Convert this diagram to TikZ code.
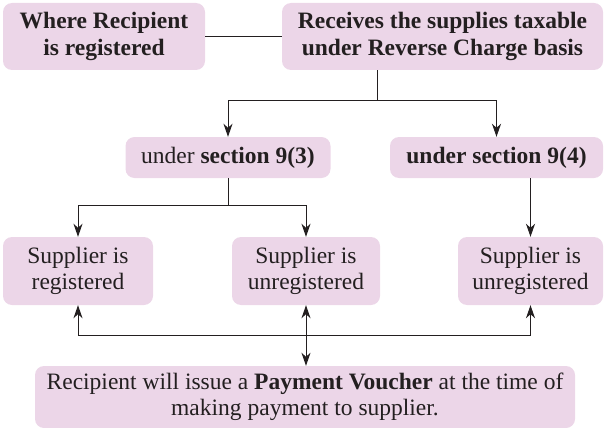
\documentclass[tikz,border=0pt]{standalone}
\usepackage{fontspec}
\setmainfont{Liberation Serif}
\usetikzlibrary{arrows.meta}
\definecolor{boxpink}{RGB}{236,214,232}
\definecolor{linegray}{RGB}{35,31,32}
\begin{document}
\begin{tikzpicture}[x=1pt,y=-1pt,
  pbox/.style={fill=boxpink, rounded corners=9pt, inner sep=0pt, align=center, font=\fontsize{23.5}{26.5}\selectfont, text=linegray},
  hbox/.style={pbox, font=\bfseries\fontsize{23.5}{26.5}\selectfont},
  conn/.style={draw=linegray, line width=1pt},
  arr/.style={conn, -{Stealth[length=13pt,width=9pt,inset=4pt]}},
  darr/.style={conn, {Stealth[length=13pt,width=9pt,inset=4pt]}-{Stealth[length=13pt,width=9pt,inset=4pt]}}]
\useasboundingbox (0,0) rectangle (605,428);
\node[hbox, minimum width=202pt, minimum height=67pt] (A) at (104,36.5) {Where Recipient\\is registered};
\node[hbox, minimum width=321pt, minimum height=67pt] (B) at (442.5,36.5) {Receives the supplies taxable\\under Reverse Charge basis};
\node[pbox, minimum width=205pt, minimum height=41pt] (C) at (228,157.5) {under \textbf{section 9(3)}};
\node[pbox, minimum width=213pt, minimum height=41pt] (D) at (496.5,157.5) {\textbf{under section 9(4)}};
\node[pbox, minimum width=150pt, minimum height=68pt] (E1) at (78,271) {Supplier is\\registered};
\node[pbox, minimum width=148pt, minimum height=68pt] (E2) at (306,271) {Supplier is\\unregistered};
\node[pbox, minimum width=145pt, minimum height=68pt] (E3) at (530.5,271) {Supplier is\\unregistered};
\node[pbox, minimum width=540pt, minimum height=62pt] (F) at (305,397) {Recipient will issue a \textbf{Payment Voucher} at the time of\\making payment to supplier.};
\coordinate (j1) at (377,100);
\coordinate (j2) at (228,205);
\coordinate (j3) at (305,335);
\draw[conn] (A.east) -- (B.west);
\draw[conn] (B.south -| j1) -- (j1);
\draw[arr] (j1) -| (C.north);
\draw[arr] (j1) -| (D.north);
\draw[conn] (C.south) -- (j2);
\draw[arr] (j2) -| (E1.north);
\draw[arr] (j2) -| (E2.north);
\draw[arr] (D.south -| E3.north) -- (E3.north);
\draw[arr] (j3) -| (E1.south);
\draw[arr] (j3) -| (E3.south);
\draw[darr] (E2.south) -- (F.north -| E2.south);
\end{tikzpicture}
\end{document}
